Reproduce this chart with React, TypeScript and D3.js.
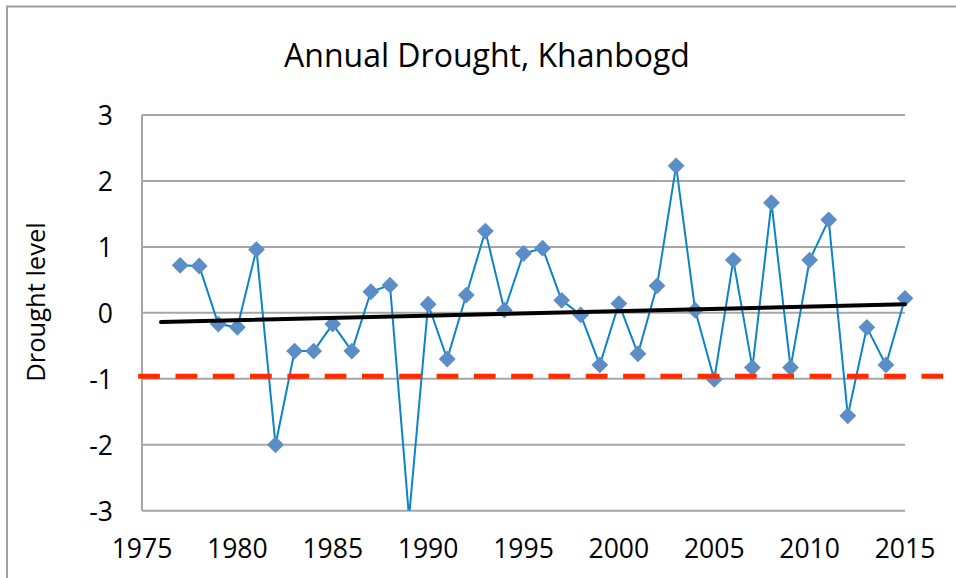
import React from "react";
import * as d3 from "d3";

const years: number[] = [
  1977, 1978, 1979, 1980, 1981, 1982, 1983, 1984, 1985, 1986, 1987, 1988, 1989,
  1990, 1991, 1992, 1993, 1994, 1995, 1996, 1997, 1998, 1999, 2000, 2001, 2002,
  2003, 2004, 2005, 2006, 2007, 2008, 2009, 2010, 2011, 2012, 2013, 2014, 2015,
];
const droughtValues: number[] = [
  0.72, 0.71, -0.17, -0.22, 0.96, -2.0, -0.58, -0.58, -0.17, -0.58, 0.32, 0.42, -3.1,
  0.13, -0.7, 0.27, 1.24, 0.04, 0.9, 0.98, 0.19, -0.03, -0.79, 0.14, -0.62, 0.41,
  2.23, 0.04, -1.01, 0.8, -0.83, 1.67, -0.83, 0.8, 1.41, -1.56, -0.22, -0.79, 0.22,
];
const trendYears: number[] = [1976, 2015];
const trendValues: number[] = [-0.14, 0.13];
const thresholdYears: number[] = [1974.8, 2017];
const thresholdValue = -0.96;
const xTicks: number[] = [1975, 1980, 1985, 1990, 1995, 2000, 2005, 2010, 2015];
const yTicks: number[] = [-3, -2, -1, 0, 1, 2, 3];
const title = "Annual Drought, Khanbogd";
const yLabel = "Drought level";

const W = 956;
const H = 578;
const FONT = "'Open Sans', sans-serif";

export default function App() {
  const x = d3.scaleLinear().domain([1975, 2015]).range([142, 905]);
  const y = d3.scaleLinear().domain([-3, 3]).range([510.7, 115]);

  const lineGen = d3
    .line<number>()
    .x((_, i) => x(years[i]))
    .y((d) => y(d));
  const dataPath = lineGen(droughtValues) || "";

  const trendPath =
    d3
      .line<number>()
      .x((_, i) => x(trendYears[i]))
      .y((d) => y(d))(trendValues) || "";

  const diamond = d3.symbol().type(d3.symbolDiamond2).size(180)() || "";

  const [x0, x1] = x.range();
  const [yb, yt] = y.range();

  return (
    <svg
      width={W}
      height={H}
      style={{ position: "absolute", left: 0, top: 0, background: "#fff" }}
    >
      <defs>
        <clipPath id="plotClip">
          <rect x={x0 - 12} y={yt - 12} width={x1 - x0 + 24} height={yb - yt + 12} />
        </clipPath>
      </defs>
      <rect x={0} y={0} width={W} height={H} fill="#fff" />
      <rect
        x={7}
        y={6.5}
        width={W + 20}
        height={H + 20}
        fill="none"
        stroke="#a0a0a0"
        strokeWidth={2}
      />
      <text
        x={487}
        y={67}
        textAnchor="middle"
        fontFamily={FONT}
        fontSize={32}
        fill="#000"
      >
        {title}
      </text>

      {yTicks.map((t) => (
        <line
          key={"g" + t}
          x1={x0}
          x2={x1}
          y1={y(t)}
          y2={y(t)}
          stroke="#a6a6a6"
          strokeWidth={2}
        />
      ))}
      <line x1={x0} x2={x0} y1={yt} y2={yb} stroke="#a6a6a6" strokeWidth={2} />

      {yTicks.map((t) => (
        <text
          key={"yt" + t}
          x={113}
          y={y(t) + 10}
          textAnchor="end"
          fontFamily={FONT}
          fontSize={26.5}
          fill="#000"
        >
          {t}
        </text>
      ))}
      {xTicks.map((t) => (
        <text
          key={"xt" + t}
          x={x(t)}
          y={558}
          textAnchor="middle"
          fontFamily={FONT}
          fontSize={26.5}
          fill="#000"
        >
          {t}
        </text>
      ))}
      <text
        transform={`translate(45,302) rotate(-90)`}
        textAnchor="middle"
        fontFamily={FONT}
        fontSize={25.5}
        fill="#000"
      >
        {yLabel}
      </text>

      <g clipPath="url(#plotClip)">
        <path d={dataPath} fill="none" stroke="#0a84c8" strokeWidth={2} />
        {droughtValues.map((v, i) => (
          <path
            key={"m" + i}
            d={diamond}
            transform={`translate(${x(years[i])},${y(v)})`}
            fill="#5b8ec7"
          />
        ))}
      </g>

      <line
        x1={x(thresholdYears[0])}
        x2={x(thresholdYears[1])}
        y1={y(thresholdValue)}
        y2={y(thresholdValue)}
        stroke="#ff2a00"
        strokeWidth={5}
        strokeDasharray="21.7 15.6"
      />
      <path d={trendPath} fill="none" stroke="#000" strokeWidth={4} strokeLinecap="round" />
    </svg>
  );
}
